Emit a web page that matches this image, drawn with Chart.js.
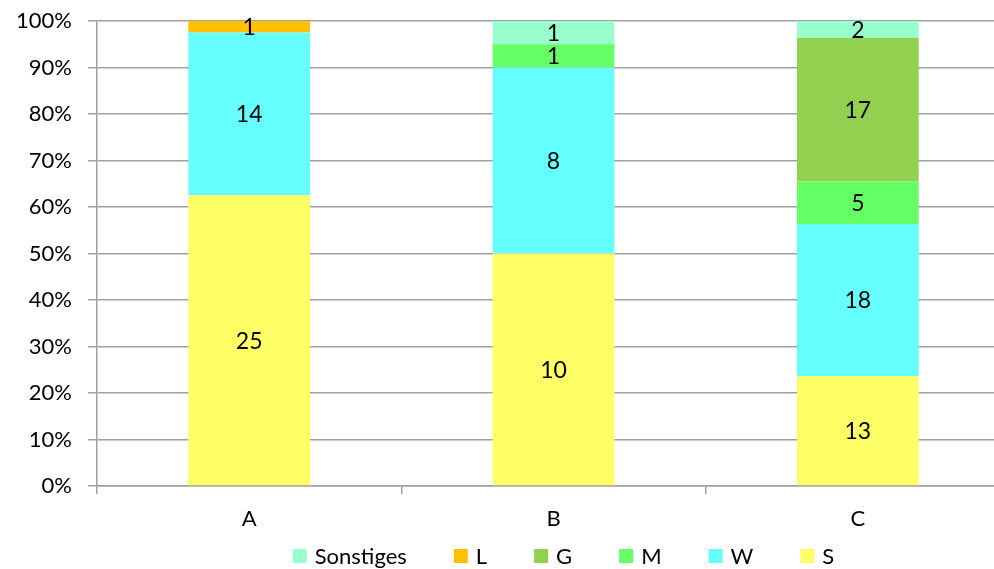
<!DOCTYPE html>
<html>
<head>
<meta charset="utf-8">
<script src="https://cdn.jsdelivr.net/npm/chart.js@4"></script>
<style>
  html, body { margin: 0; padding: 0; background: #fff; overflow: hidden; }
  #wrap { width: 1010px; height: 569px; position: relative; }
</style>
</head>
<body>
<div id="wrap"><canvas id="c"></canvas></div>
<script>
// Categories and counts per group
const categories = ['A', 'B', 'C'];
const S = [25, 10, 13];
const W = [14, 8, 18];
const M = [0, 1, 5];
const G = [0, 0, 17];
const L = [1, 0, 0];
const Sonstiges = [0, 1, 2];
const yTicks = [0, 10, 20, 30, 40, 50, 60, 70, 80, 90, 100];

const seriesList = [
  { label: 'S', data: S, color: '#FFFF66' },
  { label: 'W', data: W, color: '#66FFFF' },
  { label: 'M', data: M, color: '#66FF66' },
  { label: 'G', data: G, color: '#92D050' },
  { label: 'L', data: L, color: '#FFC000' },
  { label: 'Sonstiges', data: Sonstiges, color: '#99FFCC' }
];

// Column totals, used to turn counts into shares of 100%
const totals = categories.map((_, i) => seriesList.reduce((s, d) => s + d.data[i], 0));

const FONT = 'Lato, "Open Sans", sans-serif';
const FONT_SIZE = 22;
const LINE = '#a0a0a0';

// Writes each count in the middle of its segment
const countLabels = {
  id: 'countLabels',
  afterDatasetsDraw(chart) {
    const ctx = chart.ctx;
    ctx.save();
    ctx.fillStyle = '#000';
    ctx.font = '23px ' + FONT;
    ctx.textAlign = 'center';
    ctx.textBaseline = 'middle';
    chart.data.datasets.forEach((ds, di) => {
      const meta = chart.getDatasetMeta(di);
      meta.data.forEach((bar, i) => {
        const v = ds.counts[i];
        if (!v) return;
        ctx.fillText(String(v), bar.x, (bar.y + bar.base) / 2 + 1);
      });
    });
    ctx.restore();
  }
};

// Legend row along the bottom, series listed top-of-stack first
const bottomLegend = {
  id: 'bottomLegend',
  afterDraw(chart) {
    const ctx = chart.ctx;
    const box = 14, gapText = 8, gapItem = 47;
    const items = chart.data.datasets.slice().reverse();
    ctx.save();
    ctx.font = FONT_SIZE + 'px ' + FONT;
    ctx.textBaseline = 'middle';
    ctx.textAlign = 'left';
    const widths = items.map(d => box + gapText + ctx.measureText(d.label).width);
    const total = widths.reduce((a, b) => a + b, 0) + gapItem * (items.length - 1);
    let x = (chart.chartArea.left + chart.chartArea.right) / 2 + 10 - total / 2;
    const y = 556;
    items.forEach((d, i) => {
      ctx.fillStyle = d.backgroundColor;
      ctx.fillRect(x, y - box / 2, box, box);
      ctx.fillStyle = '#000';
      ctx.fillText(d.label, x + box + gapText, y + 1);
      x += widths[i] + gapItem;
    });
    ctx.restore();
  }
};

new Chart(document.getElementById('c'), {
  type: 'bar',
  data: {
    labels: categories,
    datasets: seriesList.map(s => ({
      label: s.label,
      counts: s.data,
      data: s.data.map((v, i) => v / totals[i] * 100),
      backgroundColor: s.color,
      borderWidth: 0,
      barPercentage: 0.4,
      categoryPercentage: 1.0
    }))
  },
  options: {
    responsive: true,
    maintainAspectRatio: false,
    animation: false,
    layout: { padding: { top: 0, right: 0, bottom: 33, left: 0 } },
    plugins: {
      tooltip: { enabled: false },
      legend: { display: false }
    },
    scales: {
      x: {
        stacked: true,
        afterFit(scale) { scale.height = 50; },
        grid: {
          offset: true,
          drawOnChartArea: false,
          drawTicks: true,
          tickLength: 8,
          color: LINE,
          lineWidth: 1.5
        },
        border: { color: LINE, width: 1.5 },
        ticks: { font: { family: FONT, size: FONT_SIZE }, color: '#000', padding: 12 }
      },
      y: {
        stacked: true,
        min: 0,
        max: 100,
        afterBuildTicks(scale) { scale.ticks = yTicks.map(v => ({ value: v })); },
        afterFit(scale) { scale.width = 97; },
        grid: { color: LINE, lineWidth: 1.5, tickLength: 9 },
        border: { color: LINE, width: 1.5 },
        ticks: {
          font: { family: FONT, size: FONT_SIZE, lineHeight: 0.45 },
          color: '#000',
          padding: 16,
          callback: v => v + '%'
        }
      }
    }
  },
  plugins: [countLabels, bottomLegend]
});
</script>
</body>
</html>
